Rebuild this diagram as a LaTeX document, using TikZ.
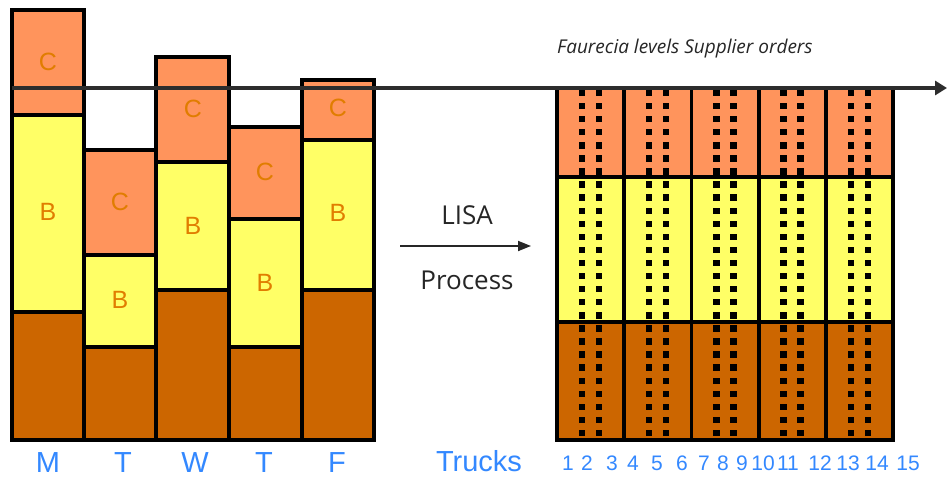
\documentclass[tikz,border=0pt]{standalone}
\usepackage{fontspec}
\setmainfont{Open Sans}
\newfontfamily\arialf{Liberation Sans}
\usetikzlibrary{arrows.meta}
\definecolor{cC}{RGB}{255,148,92}
\definecolor{cB}{RGB}{255,255,102}
\definecolor{cA}{RGB}{204,102,0}
\definecolor{lbl}{RGB}{51,136,255}
\definecolor{ltr}{RGB}{225,125,0}
\definecolor{axisc}{RGB}{45,45,45}
\begin{document}
\begin{tikzpicture}[x=1pt,y=-1pt,
  seg/.style={draw=black,line width=3.8pt},
  inletter/.style={text=ltr,font=\arialf\fontsize{25}{25}\selectfont,inner sep=0pt},
  daylbl/.style={text=lbl,font=\arialf\fontsize{29}{29}\selectfont,inner sep=0pt},
  numlbl/.style={text=lbl,font=\arialf\fontsize{21}{21}\selectfont,inner sep=0pt},
  lisa/.style={text=black!85,font=\fontsize{26}{26}\selectfont,inner sep=0pt},
  dotsq/.style={fill=black}]
\useasboundingbox (0,0) rectangle (947,479);
\fill[white] (0,0) rectangle (947,479);
% left day bars
\foreach \xa/\xb/\t/\cb/\ba in {12/84/10/115/312, 84/156/150/255/347, 156/229/57/162/290, 229/302/127/219/347, 302/374/80/140/290} {
  \filldraw[seg,fill=cA] (\xa,\ba) rectangle (\xb,440);
  \filldraw[seg,fill=cB] (\xa,\cb) rectangle (\xb,\ba);
  \filldraw[seg,fill=cC] (\xa,\t) rectangle (\xb,\cb);
}
% letters
\node[inletter] (c1) at (48,62) {C};
\node[inletter] (b1) at (48,212) {B};
\node[inletter] (c2) at (120,202) {C};
\node[inletter] (b2) at (120,300) {B};
\node[inletter] (c3) at (193,109) {C};
\node[inletter] (b3) at (193,226) {B};
\node[inletter] (c4) at (265,172) {C};
\node[inletter] (b4) at (265,283) {B};
\node[inletter] (c5) at (338,108) {C};
\node[inletter] (b5) at (338,213) {B};
% day labels
\node[daylbl] (dM) at (48,463) {M};
\node[daylbl] (dT) at (123,463) {T};
\node[daylbl] (dW) at (195,463) {W};
\node[daylbl] (dT2) at (264,463) {T};
\node[daylbl] (dF) at (337,463) {F};
\node[daylbl] (trucks) at (479,461) {Trucks};
% trucks
\foreach \i in {0,...,4} {
  \pgfmathsetmacro{\xa}{557+67.2*\i}
  \pgfmathsetmacro{\xb}{\xa+67.2}
  \filldraw[seg,fill=cA] (\xa,322) rectangle (\xb,440);
  \filldraw[seg,fill=cB] (\xa,177) rectangle (\xb,322);
  \filldraw[seg,fill=cC] (\xa,88) rectangle (\xb,177);
  \foreach \j in {0,...,26} {
    \pgfmathsetmacro{\yy}{93+13.08*\j}
    \fill[dotsq] (\xa+21.8,\yy-3.2) rectangle ++(6.4,6.4);
    \fill[dotsq] (\xa+38.8,\yy-3.2) rectangle ++(6.4,6.4);
  }
}
% truck numbers
\foreach \n/\x in {1/568,2/587,3/612,4/633,5/657,6/682,7/704,8/723,9/742,10/763,11/788,12/820,13/848,14/877,15/908} {
  \node[numlbl] (n\n) at (\x,463) {\n};
}
% main horizontal arrow
\coordinate (hs) at (12,88);
\coordinate (he) at (947,88);
\draw[axisc,line width=3.8pt,-{Triangle[length=12pt,width=14pt]}] (hs) -- (he);
\node[text=black!85,font=\itshape\fontsize{19}{19}\selectfont,anchor=west,inner sep=0pt] (flev) at (557,49) {Faurecia levels Supplier orders};
% LISA process arrow
\node[lisa] (lisaT) at (467,215) {LISA};
\node[lisa] (procT) at (467,280) {Process};
\coordinate (la) at (400,246);
\coordinate (lb) at (531,246);
\draw[black!85,line width=1.8pt,-{Triangle[length=13pt,width=10pt]}] (la) -- (lb);
\end{tikzpicture}
\end{document}
